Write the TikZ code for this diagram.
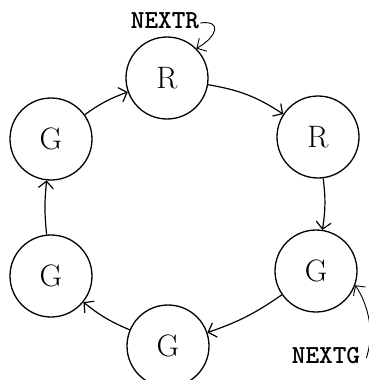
\documentclass[tikz,border=0pt]{standalone}
\usetikzlibrary{arrows.meta}
\begin{document}
\begin{tikzpicture}[x=1pt,y=-1pt,
  state/.style={circle,draw,line width=1.3pt,minimum size=82pt,inner sep=0pt,font=\fontsize{31}{33}\selectfont},
  lbl/.style={font=\fontsize{26}{28}\selectfont\ttfamily\bfseries,inner sep=0pt},
  edge/.style={line width=1.2pt,-{Straight Barb[length=7pt,width=15pt,line width=1.2pt]}},
  thin edge/.style={line width=0.9pt,-{Straight Barb[length=7pt,width=15pt,line width=0.9pt]}}]
\useasboundingbox (0,0) rectangle (369,380);
\begin{scope}
\clip (0,0) rectangle (369,380);
\node[state] (r1) at (167,78) {R};
\node[state] (r2) at (318,137) {R};
\node[state] (g1) at (316,271) {G};
\node[state] (g2) at (168,346) {G};
\node[state] (g3) at (51,276) {G};
\node[state] (g4) at (51,139) {G};
\draw[edge] (r1) to[bend left=12] (r2);
\draw[edge] (r2) to[bend left=8] (g1);
\draw[edge] (g1) to[bend left=8] (g2);
\draw[edge] (g2) to[bend left=8] (g3);
\draw[edge] (g3) to[bend left=6] (g4);
\draw[edge] (g4) to[bend left=8] (r1);
\node[lbl] (nr) at (165,21) {NEXTR};
\node[lbl] (ng) at (326,356) {NEXTG};
\coordinate (nrs) at ([xshift=1pt,yshift=-2pt]nr.east);
\coordinate (ngs) at ([xshift=6pt,yshift=-2pt]ng.east);
\draw[thin edge] (nrs) .. controls (222,20) and (218,36) .. (r1.45);
\draw[thin edge] (ngs) .. controls (378,322) and (360,292) .. (g1.-20);
\end{scope}
\end{tikzpicture}
\end{document}
